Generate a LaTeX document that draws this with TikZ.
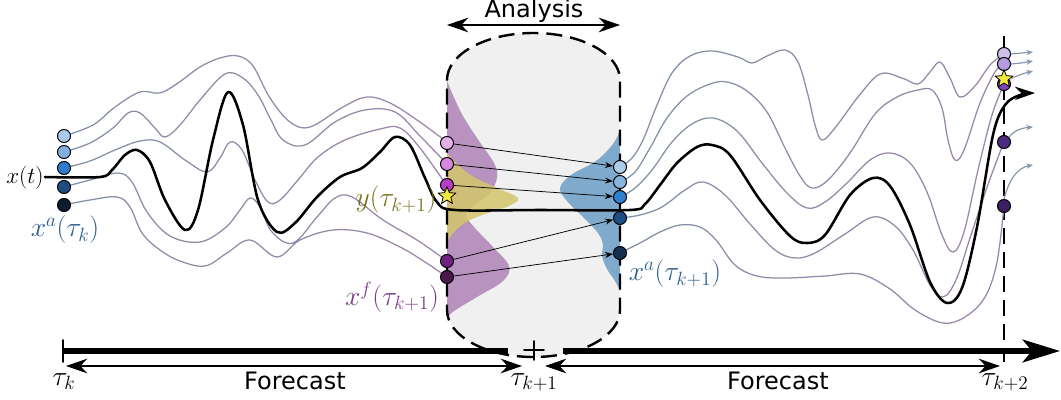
\documentclass[tikz,border=0pt]{standalone}
\usepackage{fontspec}
\setsansfont{DejaVu Sans}
\usepackage{amsmath}
\usetikzlibrary{arrows.meta,shapes.geometric}
\definecolor{ensblue}{HTML}{8391A7}
\definecolor{enspurp}{HTML}{9C86AB}
\definecolor{anagray}{HTML}{F0F0F0}
\definecolor{priorpurp}{HTML}{B993BF}
\definecolor{obsyel}{HTML}{D3C66A}
\definecolor{postblue}{HTML}{7FAACC}
\definecolor{labblue}{HTML}{2B5D91}
\definecolor{labolive}{HTML}{76701F}
\definecolor{labpurp}{HTML}{7B3A8A}
\definecolor{staryel}{HTML}{F2E93A}
\definecolor{tipgray}{HTML}{8797AB}
% marker colours
\definecolor{akcol1}{HTML}{A8CAEB}\definecolor{akcol2}{HTML}{82B0E0}\definecolor{akcol3}{HTML}{2F7BCC}
\definecolor{akcol4}{HTML}{204D80}\definecolor{akcol5}{HTML}{0D1C2E}
\definecolor{fkcol1}{HTML}{E3B0E8}\definecolor{fkcol2}{HTML}{D788DE}\definecolor{fkcol3}{HTML}{B93CC4}
\definecolor{fkcol4}{HTML}{6F2180}\definecolor{fkcol5}{HTML}{4B1849}
\definecolor{ancol1}{HTML}{AECDEA}\definecolor{ancol2}{HTML}{88B4E0}\definecolor{ancol3}{HTML}{3080CF}
\definecolor{ancol4}{HTML}{1E4F84}\definecolor{ancol5}{HTML}{15314F}
\definecolor{fncol1}{HTML}{CFC0EA}\definecolor{fncol2}{HTML}{B79BE0}\definecolor{fncol3}{HTML}{7E45B8}
\definecolor{fncol4}{HTML}{4C2C80}\definecolor{fncol5}{HTML}{3A2060}
\tikzset{
  every picture/.style={line join=round, line cap=round, >=Stealth},
  truth/.style={line width=1.9pt},
  ens/.style={line width=0.95pt},
  dot/.style={circle, draw=black, line width=0.75pt, minimum size=9.8pt, inner sep=0pt},
  obsstar/.style={star, star points=5, star point ratio=2.3, draw=black, line width=0.6pt, fill=staryel, minimum size=14pt, inner sep=0pt},
  lbl/.style={font=\fontsize{20.74}{24}\selectfont},
  sanslbl/.style={font=\sffamily\fontsize{18}{20}\selectfont},
  spanarrow/.style={line width=1.1pt, {Stealth[length=16pt,width=11pt]}-{Stealth[length=16pt,width=11pt]}},
  anarrow/.style={line width=0.55pt, -{Stealth[length=6pt,width=4.5pt]}},
  tiparrow/.style={tipgray, line width=0.9pt, -{Stealth[length=5pt,width=4pt]}},
  bounddash/.style={line width=1.8pt, line cap=butt, dash pattern=on 12pt off 6pt},
}

\begin{document}
\begin{tikzpicture}[x=0.75pt,y=-0.75pt]
\useasboundingbox (0,0) rectangle (1061,400);
% analysis window and densities
\fill[anagray] (447,80) arc[start angle=180,end angle=360,x radius=86.5,y radius=47] -- (620,310) arc[start angle=0,end angle=180,x radius=86.5,y radius=47] -- cycle;
\fill[priorpurp] plot[smooth,tension=0.6] coordinates {(447,80) (452,93) (463,116) (479,141) (494,163) (497,178) (489,194) (473,206) (466,215) (474,227) (493,247) (509,266) (503,281) (477,297) (454,311) (447,318)} -- cycle;
\fill[obsyel,opacity=0.85] plot[smooth,tension=0.6] coordinates {(447,153) (456,163) (472,176) (497,188) (518,198) (509,206) (488,213) (468,221) (455,231) (447,242)} -- cycle;
\fill[postblue] plot[smooth,tension=0.6] coordinates {(620,130) (613,144) (596,161) (571,175) (560,188) (567,201) (583,217) (598,233) (603,245) (602,256) (607,269) (615,281) (620,291)} -- cycle;
\draw[bounddash] (447,80) arc[start angle=180,end angle=360,x radius=86.5,y radius=47] -- (620,310) arc[start angle=0,end angle=180,x radius=86.5,y radius=47] -- cycle;
\draw[bounddash] (1004,36) -- (1004,362);
% ensemble members
\def\ensleft{
  plot[smooth,tension=0.6] coordinates {(64,136) (93,125) (115,107) (140,92) (160,93) (178,83) (200,67) (220,58) (238,56) (253,66) (270,98) (290,122) (310,127) (343,107) (367,97) (390,103) (417,120) (447,142)}
  plot[smooth,tension=0.6] coordinates {(64,152) (90,143) (113,128) (128,113) (140,113) (155,128) (165,137) (180,125) (200,100) (225,74) (243,78) (258,95) (270,118) (283,140) (305,145) (335,122) (365,110) (395,112) (420,136) (447,164)}
  plot[smooth,tension=0.6] coordinates {(64,168) (90,161) (115,150) (140,141) (160,142) (185,160) (207,172) (220,158) (230,142) (242,150) (255,180) (268,202) (280,200) (298,180) (318,157) (345,140) (380,129) (400,128) (420,148) (447,186)}
  plot[smooth,tension=0.6] coordinates {(64,187) (90,180) (118,173) (132,182) (147,212) (170,236) (200,242) (225,228) (240,210) (250,198) (260,207) (272,232) (293,243) (317,217) (335,198) (352,197) (383,220) (417,240) (447,261)}
  plot[smooth,tension=0.6] coordinates {(64,205) (90,200) (117,197) (130,207) (142,233) (160,250) (180,261) (205,266) (227,253) (250,240) (277,257) (300,240) (333,230) (367,233) (400,247) (425,262) (447,277)}}
\def\ensright{
  plot[smooth,tension=0.6] coordinates {(620,167) (632,158) (643,140) (657,105) (672,73) (690,56) (712,51) (738,57) (752,63) (767,56) (785,50) (798,62) (808,95) (815,125) (822,140) (835,128) (858,97) (880,74) (902,78) (918,84) (930,72) (940,62) (950,78) (960,97) (975,86) (990,65) (1004,54)}
  plot[smooth,tension=0.6] coordinates {(620,182) (635,172) (650,148) (667,118) (687,96) (710,84) (727,82) (747,91) (767,112) (785,148) (800,176) (812,188) (828,180) (850,153) (875,114) (897,97) (918,90) (932,90) (942,108) (948,140) (955,160) (964,150) (980,103) (995,72) (1004,64)}
  plot[smooth,tension=0.6] coordinates {(620,197) (635,188) (652,170) (672,142) (692,124) (713,118) (737,131) (762,163) (787,193) (807,208) (825,202) (847,183) (870,160) (890,153) (910,163) (927,192) (942,235) (953,252) (964,232) (978,170) (992,115) (1004,84)}
  plot[smooth,tension=0.6] coordinates {(620,218) (640,215) (662,207) (685,190) (703,182) (725,195) (750,224) (775,250) (795,258) (815,253) (845,234) (873,217) (895,226) (913,250) (930,285) (943,297) (956,280) (970,238) (985,193) (997,160) (1004,142)}
  plot[smooth,tension=0.6] coordinates {(620,253) (640,243) (660,232) (680,225) (700,227) (716,240) (735,265) (757,276) (785,278) (825,276) (860,274) (890,289) (915,310) (943,323) (965,317) (985,297) (997,262) (1004,206)}}
\foreach \j in {0,...,5}{
  \pgfmathtruncatemacro\mix{\j*20}
  \begin{scope}
    \clip ({40+\j*68},0) rectangle ++(68,400);
    \draw[ens,color=enspurp!\mix!ensblue] \ensleft;
  \end{scope}
  \begin{scope}
    \clip ({614+\j*66},0) rectangle ++(66,400);
    \draw[ens,color=enspurp!\mix!ensblue] \ensright;
  \end{scope}
}
% truth
\draw[truth,-{Stealth[length=15pt,width=10pt]}] plot[smooth,tension=0.55] coordinates {(45,177) (100,177) (112,170) (125,155) (137,150) (150,162) (165,200) (185,230) (198,210) (213,140) (228,92) (243,125) (258,200) (277,232) (295,223) (317,197) (340,177) (362,168) (380,152) (395,137) (410,145) (425,178) (437,202) (455,210) (540,210) (630,210) (645,204) (660,185) (677,163) (697,147) (712,145) (730,155) (760,200) (790,236) (807,243) (825,235) (850,195) (873,178) (890,186) (910,225) (930,282) (947,303) (962,288) (977,227) (993,135) (1005,105) (1020,95) (1035,93)};
% markers
\foreach \y [count=\i] in {136,152,168,187,205} \node[dot,fill=akcol\i] (ak\i) at (64,\y) {};
\foreach \y [count=\i] in {143,164,185,261,277} \node[dot,fill=fkcol\i] (fk\i) at (447,\y) {};
\foreach \y [count=\i] in {167,182,197,218,253} \node[dot,fill=ancol\i] (an\i) at (620,\y) {};
\foreach \y [count=\i] in {54,64,84,142,206} \node[dot,fill=fncol\i] (fn\i) at (1004,\y) {};
\foreach \i in {1,...,5} \draw[anarrow] (fk\i) -- (an\i);
\node[obsstar] (obs1) at (447,196) {};
\node[obsstar] (obs2) at (1004,79) {};
% next forecast
\coordinate (nx1) at (1033,52); \coordinate (nx2) at (1033,61); \coordinate (nx3) at (1033,71);
\coordinate (nx4) at (1033,127); \coordinate (nx5) at (1033,165);
\draw[tiparrow] (fn1.east) to[out=5,in=185] (nx1);
\draw[tiparrow] (fn2.east) to[out=5,in=190] (nx2);
\draw[tiparrow] (obs2.east) to[out=25,in=195] (nx3);
\draw[tiparrow] (fn4.north east) to[out=50,in=185] (nx4);
\draw[tiparrow] (fn5.north) to[out=75,in=190] (nx5);
% time axis
\coordinate (tl0) at (63,351); \coordinate (tl1) at (508,351);
\coordinate (tl2) at (563,351); \coordinate (tl3) at (1060,351);
\draw[line width=4pt,line cap=butt] (tl0) -- (tl1);
\draw[line width=4pt,line cap=butt,-{Stealth[length=28pt,width=17pt,inset=7pt]}] (tl2) -- (tl3);
\draw[line width=1.4pt] (63,340) -- (63,362);
\draw[line width=1.4pt] (534,341) -- (534,360) (524,350) -- (544,350);
\coordinate (fc0) at (66,366); \coordinate (fc1) at (522,366);
\coordinate (fc2) at (545,366); \coordinate (fc3) at (1000,366);
\draw[spanarrow] (fc0) -- (fc1);
\draw[spanarrow] (fc2) -- (fc3);
\coordinate (an0) at (447,25); \coordinate (an6) at (620,25);
\draw[spanarrow] (an0) -- (an6);
% labels
\node[sanslbl,anchor=base] (analysis) at (534,17) {Analysis};
\node[sanslbl,anchor=base] (fcast1) at (295,389) {Forecast};
\node[sanslbl,anchor=base] (fcast2) at (778,389) {Forecast};
\node[lbl,anchor=base] (tauk) at (64,385) {$\tau_k$};
\node[lbl,anchor=base] (tauk1) at (534,385) {$\tau_{k+1}$};
\node[lbl,anchor=base] (tauk2) at (1005,385) {$\tau_{k+2}$};
\node[font=\fontsize{17.28}{20}\selectfont] (xt) at (25,178) {$x(t)$};
\node[lbl,labblue] (xak) at (65,230) {$x^a(\tau_k)$};
\node[lbl,labolive] (ylab) at (396,200) {$y(\tau_{k+1})$};
\node[lbl,labpurp] (xfk) at (392,297) {$x^f(\tau_{k+1})$};
\node[lbl,labblue] (xak1) at (675,274) {$x^a(\tau_{k+1})$};
\end{tikzpicture}
\end{document}
